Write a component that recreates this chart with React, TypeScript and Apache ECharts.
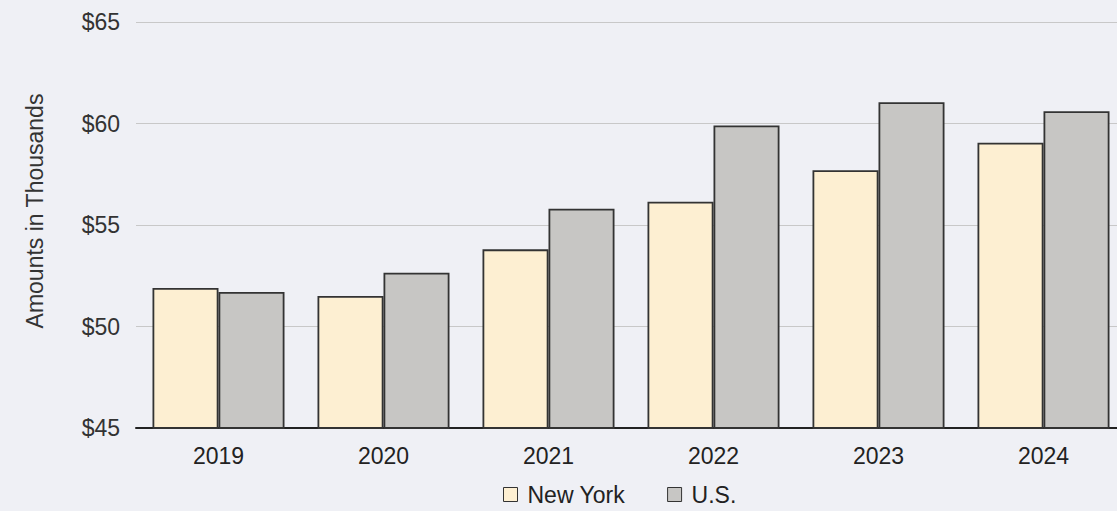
import React, { useEffect, useRef } from "react";
import * as echarts from "echarts";

const categories = ["2019", "2020", "2021", "2022", "2023", "2024"];
const newYork = [51.9, 51.5, 53.8, 56.15, 57.7, 59.05];
const us = [51.7, 52.65, 55.8, 59.9, 61.05, 60.6];
const yTicks = { min: 45, max: 65, interval: 5 };

const FONT = "'Liberation Sans', Arial, Helvetica, sans-serif";

export default function App() {
  const ref = useRef<HTMLDivElement>(null);
  useEffect(() => {
    if (!ref.current) return;
    const chart = echarts.init(ref.current, null, { renderer: "svg" });
    chart.setOption({
      animation: false,
      backgroundColor: "#eff0f5",
      textStyle: { fontFamily: FONT },
      grid: { left: 136, top: 22, width: 990, height: 406 },
      legend: {
        left: 498,
        top: 478,
        itemWidth: 14,
        itemHeight: 14,
        itemGap: 42,
        icon: "rect",
        itemStyle: { borderColor: "#333", borderWidth: 1 },
        textStyle: { fontSize: 23, color: "#222", fontFamily: FONT, padding: [0, 0, 0, 5] },
        data: ["New York", "U.S."],
      },
      graphic: [
        {
          type: "text",
          x: 35,
          y: 211,
          rotation: Math.PI / 2,
          style: {
            text: "Amounts in Thousands",
            fontSize: 23,
            fontFamily: FONT,
            fill: "#333",
            align: "center",
            verticalAlign: "middle",
          },
        },
      ],
      xAxis: {
        type: "category",
        data: categories,
        axisLine: { show: true, lineStyle: { color: "#222", width: 2 } },
        axisTick: { show: false },
        axisLabel: { fontSize: 23, color: "#222", margin: 16, fontFamily: FONT },
      },
      yAxis: {
        type: "value",
        min: yTicks.min,
        max: yTicks.max,
        interval: yTicks.interval,
        axisLine: { show: false },
        axisTick: { show: false },
        splitLine: { lineStyle: { color: "#c8c8c8", width: 1 } },
        axisLabel: {
          fontSize: 23,
          color: "#333",
          margin: 16,
          fontFamily: FONT,
          formatter: (v: number) => "$" + v,
        },
      },
      series: [
        {
          name: "New York",
          type: "bar",
          data: newYork,
          barGap: "0%",
          barCategoryGap: "20%",
          itemStyle: { color: "#fdefd2", borderColor: "#333", borderWidth: 1.8 },
        },
        {
          name: "U.S.",
          type: "bar",
          data: us,
          barGap: "0%",
          barCategoryGap: "20%",
          itemStyle: { color: "#c7c6c4", borderColor: "#333", borderWidth: 1.8 },
        },
      ],
    });
    return () => chart.dispose();
  }, []);
  return (
    <div style={{ position: "fixed", left: 0, top: 0, width: "100vw", height: "100vh", overflow: "hidden" }}>
      <div ref={ref} style={{ width: 1140, height: 511 }} />
    </div>
  );
}
